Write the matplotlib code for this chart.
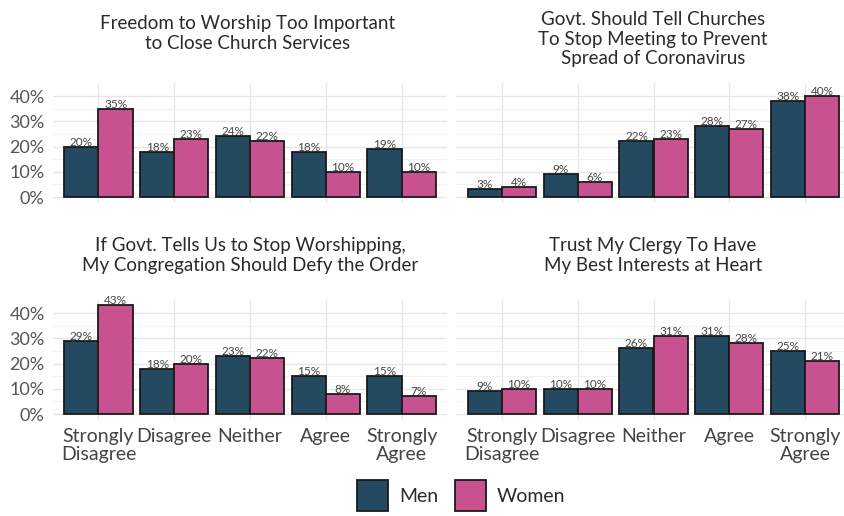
import matplotlib.pyplot as plt
from matplotlib.patches import Rectangle
import numpy as np

plt.rcParams['font.family'] = ['Lato', 'DejaVu Sans']

categorias = ["Strongly\nDisagree", "Disagree", "Neither", "Agree", "Strongly\nAgree"]

titulos = [
    "Freedom to Worship Too Important\nto Close Church Services",
    "Govt. Should Tell Churches\nTo Stop Meeting to Prevent\nSpread of Coronavirus",
    "If Govt. Tells Us to Stop Worshipping,\nMy Congregation Should Defy the Order",
    "Trust My Clergy To Have\nMy Best Interests at Heart",
]

homens_liberdade = [20, 18, 24, 18, 19]
mulheres_liberdade = [35, 23, 22, 10, 10]
homens_governo = [3, 9, 22, 28, 38]
mulheres_governo = [4, 6, 23, 27, 40]
homens_desafiar = [29, 18, 23, 15, 15]
mulheres_desafiar = [43, 20, 22, 8, 7]
homens_clero = [9, 10, 26, 31, 25]
mulheres_clero = [10, 10, 31, 28, 21]

cor_homens = "#234a60"
cor_mulheres = "#c85190"

W, H = 845, 516
fig = plt.figure(figsize=(W / 100, H / 100), dpi=100)


def px_axes(esq, topo, dir_, base):
    return fig.add_axes([esq / W, 1 - base / H, (dir_ - esq) / W, (base - topo) / H])


# posições dos painéis em pixels (esq, topo, dir, base)
paineis = [
    (53, 83, 447, 202.5, homens_liberdade, mulheres_liberdade),
    (456.5, 83, 850.5, 202.5, homens_governo, mulheres_governo),
    (53, 300, 447, 419.5, homens_desafiar, mulheres_desafiar),
    (456.5, 300, 850.5, 419.5, homens_clero, mulheres_clero),
]
centros_titulo = [(248, 33.5), (653, 39), (250, 255.5), (653, 255.5)]

x = np.arange(len(categorias))
larg = 0.45

for i, (e, t, d, b, hom, mul) in enumerate(paineis):
    ax = px_axes(e, t, d, b)
    ax.bar(x - larg / 2, hom, width=larg, color=cor_homens, edgecolor="#1a1a1a", linewidth=1.3, zorder=3)
    ax.bar(x + larg / 2, mul, width=larg, color=cor_mulheres, edgecolor="#1a1a1a", linewidth=1.3, zorder=3)
    for xi, v in zip(x - larg / 2, hom):
        ax.text(xi, v - 0.4, f"{v}%", ha="center", va="bottom", fontsize=8.5, color="#444444", zorder=4)
    for xi, v in zip(x + larg / 2, mul):
        ax.text(xi, v - 0.4, f"{v}%", ha="center", va="bottom", fontsize=8.5, color="#444444", zorder=4)

    ax.set_xlim(-0.6, 4.6)
    ax.set_ylim(-2.15, 45.15)
    ax.set_yticks([0, 10, 20, 30, 40])
    ax.set_yticks([5, 15, 25, 35], minor=True)
    ax.set_xticks(x)
    ax.grid(True, which="major", color="#e6e6e6", linewidth=1.0, zorder=0)
    ax.grid(True, which="minor", axis="y", color="#f2f2f2", linewidth=0.8, zorder=0)
    for s in ax.spines.values():
        s.set_visible(False)
    ax.tick_params(which="both", length=0)

    if i % 2 == 0:
        ax.set_yticklabels(["0%", "10%", "20%", "30%", "40%"], fontsize=13, color="#555555")
        ax.tick_params(axis="y", pad=6)
    else:
        ax.set_yticklabels([])
    if i >= 2:
        ax.set_xticklabels(categorias, fontsize=14, color="#444444", linespacing=1.05)
        ax.tick_params(axis="x", pad=6)
    else:
        ax.set_xticklabels([])

    cx, cy = centros_titulo[i]
    fig.text(cx / W, 1 - cy / H, titulos[i], ha="center", va="center",
             fontsize=13.5, color="#2a2a2a", linespacing=1.2)

# legenda
for (px, rotulo, cor) in [(357, "Men", cor_homens), (455, "Women", cor_mulheres)]:
    fig.patches.append(Rectangle((px / W, 1 - 511 / H), 31 / W, 31 / H, transform=fig.transFigure,
                                 facecolor=cor, edgecolor="#1a1a1a", linewidth=1.3))
    fig.text((px + 42) / W, 1 - 496 / H, rotulo, ha="left", va="center", fontsize=14, color="#2a2a2a")

fig.savefig("out.png", dpi=100, facecolor="white")
